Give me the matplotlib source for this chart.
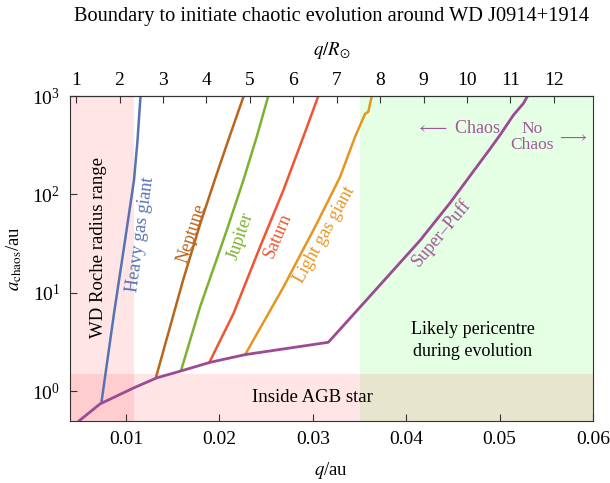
import numpy as np
import matplotlib
matplotlib.use("Agg")
import matplotlib.pyplot as plt

plt.rcParams['font.family'] = ['Liberation Serif', 'DejaVu Serif']
plt.rcParams['mathtext.fontset'] = 'stix'

R_SUN_AU = 0.00465047

# curves: q in au, a_chaos in au
heavy_q = [0.00739, 0.00871, 0.00978, 0.01085, 0.01123, 0.01155]
heavy_a = [0.80, 6.17, 29.0, 139, 355, 1000]

neptune_q = [0.01320, 0.01610, 0.01792, 0.01963, 0.02113, 0.02260]
neptune_a = [1.38, 13.4, 49.6, 153, 399, 1000]

jupiter_q = [0.01590, 0.01792, 0.02078, 0.02256, 0.02399, 0.02523]
jupiter_a = [1.64, 7.16, 43.1, 139, 384, 1000]

saturn_q = [0.01890, 0.02149, 0.02434, 0.02684, 0.02898, 0.03059]
saturn_a = [1.95, 6.13, 29.2, 110, 384, 1000]

light_q = [0.02274, 0.02684, 0.03042, 0.03291, 0.03452, 0.03559, 0.03594, 0.03631]
light_a = [2.35, 11.4, 50.5, 150, 384, 658, 692, 1000]

puff_q = [0.00496, 0.00721, 0.01078, 0.01328, 0.01596, 0.01899, 0.02274, 0.03166,
          0.03505, 0.03826, 0.04148, 0.04469, 0.04737, 0.04897, 0.05004, 0.05147,
          0.05254, 0.05300]
puff_a = [0.50, 0.745, 1.08, 1.37, 1.62, 1.97, 2.36, 3.15,
          7.16, 15.6, 34.1, 82.0, 181, 290, 401, 638,
          839, 1000]

roche_range = (0.004, 0.0109)
pericentre_range = (0.035, 0.06)
agb_range = (0.5, 1.5)

fig = plt.figure(figsize=(6.10, 4.83), dpi=100)
ax = fig.add_axes([70/610, 1-421/483, (593-70)/610, (421-96)/483])

# shaded regions
ax.axvspan(*pericentre_range, color='#00ff00', alpha=0.1, lw=0)
ax.axvspan(*roche_range, color='#ff0000', alpha=0.1, lw=0)
ax.axhspan(*agb_range, color='#ff0000', alpha=0.1, lw=0)

lw = 1.8
ax.plot(heavy_q, heavy_a, color='#5672b3', lw=lw)
ax.plot(neptune_q, neptune_a, color='#b9651c', lw=lw)
ax.plot(jupiter_q, jupiter_a, color='#7bb22f', lw=lw)
ax.plot(saturn_q, saturn_a, color='#ef5530', lw=lw)
ax.plot(light_q, light_a, color='#e6961f', lw=lw)
ax.plot(puff_q, puff_a, color='#9c4a93', lw=2.0)

ax.set_yscale('log')
ax.set_xlim(0.004, 0.06)
ax.set_ylim(0.5, 1000)
ax.set_xticks([0.01, 0.02, 0.03, 0.04, 0.05, 0.06])
ax.set_xticklabels(['0.01', '0.02', '0.03', '0.04', '0.05', '0.06'])
ax.yaxis.set_minor_locator(matplotlib.ticker.NullLocator())
ax.tick_params(direction='in', length=5, width=0.8, labelsize=14, pad=7,
               top=False, right=False, colors='#333333', labelcolor='black')
for s in ax.spines.values():
    s.set_color('#333333')

ax.set_xlabel('$q$/au', fontsize=13.5, labelpad=9)
ax.set_ylabel(r'$a_{\rm chaos}$/au', fontsize=13.5, labelpad=6)

# top axis in solar radii
top = ax.secondary_xaxis('top', functions=(lambda x: x / R_SUN_AU, lambda r: r * R_SUN_AU))
top.set_xticks(np.arange(1, 13))
top.tick_params(direction='in', length=5, width=0.8, labelsize=14, pad=5,
                colors='#333333', labelcolor='black')
top.set_xlabel(r'$q/R_{\odot}$', fontsize=13.5, labelpad=12)

fig.text(0.543, 1 - 17/483, 'Boundary to initiate chaotic evolution around WD J0914+1914',
         ha='center', va='center', fontsize=14.7)

# curve labels
ax.text(0.0070, 29, 'WD Roche radius range', rotation=90, ha='center', va='center', fontsize=13.5)
ax.text(0.0116, 39, 'Heavy gas giant', rotation=82, color='#5672b3', ha='center', va='center', fontsize=13)
ax.text(0.01706, 40, 'Neptune', rotation=72, color='#b9651c', ha='center', va='center', fontsize=13)
ax.text(0.02231, 38, 'Jupiter', rotation=71, color='#7bb22f', ha='center', va='center', fontsize=13)
ax.text(0.02627, 38, 'Saturn', rotation=67, color='#ef5530', ha='center', va='center', fontsize=13)
ax.text(0.03130, 39, 'Light gas giant', rotation=61, color='#e6961f', ha='center', va='center', fontsize=13)
ax.text(0.04373, 41, 'Super\u2013Puff', rotation=50, color='#a0589b', ha='center', va='center', fontsize=13)

ax.text(0.04555, 470, r'$\longleftarrow$ Chaos', color='#a0589b', ha='center', va='center', fontsize=13)
ax.text(0.05350, 380, 'No\nChaos', color='#a0589b', ha='center', va='center', fontsize=12.5,
        linespacing=1.0)
ax.text(0.05775, 380, r'$\longrightarrow$', color='#a0589b', ha='center', va='center', fontsize=12.5)

ax.text(0.04715, 3.3, 'Likely pericentre\nduring evolution', ha='center', va='center',
        fontsize=13, linespacing=1.4)
ax.text(0.0300, 0.86, 'Inside AGB star', ha='center', va='center', fontsize=13.5)

plt.savefig('out.png', dpi=100)
